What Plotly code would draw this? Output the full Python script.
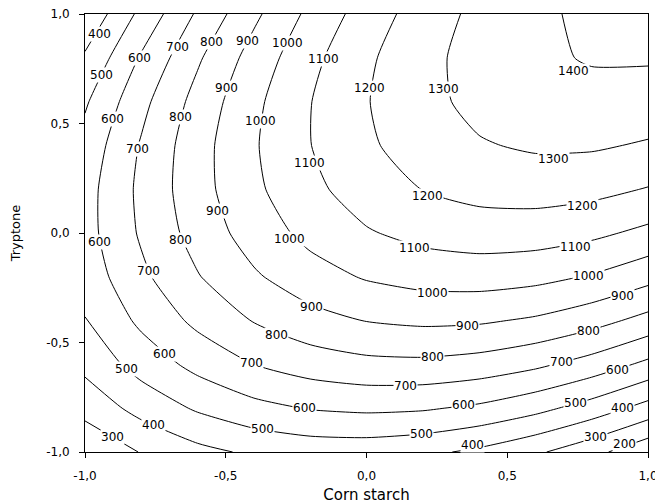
import plotly.graph_objects as go

# Coded factor levels
corn_starch = [-1.0, -0.8, -0.6, -0.4, -0.2, 0.0, 0.2, 0.4, 0.6, 0.8, 1.0]
tryptone = [-1.0, -0.8, -0.6, -0.4, -0.2, 0.0, 0.2, 0.4, 0.6, 0.8, 1.0]

# Response values (rows: tryptone, cols: corn starch)
response = [
    [217, 305, 372, 417, 440, 442, 422, 380, 317, 232, 125],
    [334, 434, 513, 570, 606, 619, 611, 582, 530, 457, 363],
    [427, 540, 630, 700, 747, 773, 777, 759, 720, 659, 577],
    [496, 621, 724, 805, 865, 903, 919, 913, 886, 837, 767],
    [542, 679, 794, 887, 959, 1009, 1037, 1044, 1029, 992, 933],
    [564, 713, 840, 945, 1029, 1091, 1131, 1150, 1147, 1122, 1076],
    [562, 723, 862, 980, 1075, 1150, 1202, 1233, 1242, 1229, 1195],
    [536, 709, 861, 990, 1098, 1184, 1249, 1292, 1313, 1312, 1290],
    [487, 672, 835, 977, 1097, 1195, 1272, 1327, 1360, 1372, 1361],
    [414, 611, 786, 940, 1072, 1183, 1271, 1338, 1384, 1407, 1409],
    [317, 526, 714, 879, 1024, 1146, 1247, 1326, 1383, 1419, 1433],
]

# Contour levels
level_start = 200
level_end = 1400
level_step = 100

# Contour label texts (levels) and where they sit on the lines
label_levels = [
    400, 500, 600, 700, 800, 900, 1000, 1100, 1200, 1300, 1400,
    900, 600, 800, 1000, 700, 1100, 1300, 900, 1200, 1200,
    600, 800, 1000, 1100, 1100, 700, 1000, 1000, 900, 900, 900,
    800, 800, 800, 700, 600, 700, 500, 700, 600, 600, 600,
    500, 400, 400, 500, 500, 300, 400, 300, 200,
]
label_x = [
    -0.947, -0.940, -0.805, -0.673, -0.549, -0.421, -0.282, -0.154, 0.012, 0.275, 0.734,
    -0.496, -0.901, -0.659, -0.375, -0.812, -0.201, 0.663, -0.528, 0.215, 0.766,
    -0.950, -0.662, -0.275, 0.172, 0.741, -0.776, 0.233, 0.787, -0.197, 0.908, 0.357,
    -0.318, 0.787, 0.236, 0.694, -0.719, -0.410, -0.854, 0.140, 0.890, -0.222, 0.343,
    0.744, 0.908, -0.758, -0.368, 0.197, -0.901, 0.375, 0.812, 0.918,
]
label_y = [
    0.909, 0.721, 0.799, 0.849, 0.872, 0.877, 0.868, 0.795, 0.662, 0.658, 0.740,
    0.662, 0.521, 0.530, 0.511, 0.384, 0.320, 0.338, 0.100, 0.169, 0.123,
    -0.041, -0.032, -0.027, -0.068, -0.064, -0.174, -0.274, -0.196, -0.338, -0.288, -0.425,
    -0.466, -0.447, -0.566, -0.589, -0.553, -0.594, -0.621, -0.699, -0.626, -0.799, -0.785,
    -0.776, -0.799, -0.877, -0.895, -0.918, -0.932, -0.966, -0.932, -0.962,
]

tick_vals = [-1.0, -0.5, 0.0, 0.5, 1.0]
tick_text = ["-1,0", "-0,5", "0,0", "0,5", "1,0"]

font_family = "DejaVu Sans, Arial, sans-serif"

fig = go.Figure(
    go.Contour(
        x=corn_starch,
        y=tryptone,
        z=response,
        contours=dict(
            coloring="lines",
            start=level_start,
            end=level_end,
            size=level_step,
            showlabels=False,
        ),
        colorscale=[[0, "black"], [1, "black"]],
        line=dict(width=1, color="black", smoothing=0.6),
        showscale=False,
        hoverinfo="skip",
    )
)

for lx, ly, lv in zip(label_x, label_y, label_levels):
    fig.add_annotation(
        x=lx, y=ly, xref="x", yref="y",
        text=str(lv),
        showarrow=False,
        font=dict(family=font_family, size=12, color="black"),
        bgcolor="white",
        borderpad=0,
        xanchor="center",
        yanchor="middle",
    )

axis_common = dict(
    range=[-1, 1],
    tickvals=tick_vals,
    ticktext=tick_text,
    ticks="outside",
    ticklen=5,
    tickwidth=1,
    tickcolor="black",
    showline=True,
    linecolor="black",
    linewidth=1,
    mirror=True,
    showgrid=False,
    zeroline=False,
    automargin=False,
    ticklabeloverflow="allow",
    tickfont=dict(family=font_family, size=12, color="black"),
)

fig.update_layout(
    width=655,
    height=504,
    margin=dict(l=85, r=7, t=14, b=52, autoexpand=False),
    paper_bgcolor="white",
    plot_bgcolor="white",
    showlegend=False,
    xaxis=dict(
        **axis_common,
        ticklabelstandoff=8,
        title=dict(text="Corn starch", font=dict(family=font_family, size=15, color="black"), standoff=12),
    ),
    yaxis=dict(
        **axis_common,
        ticklabelstandoff=7,
        title=dict(text="Tryptone", font=dict(family=font_family, size=13, color="black"), standoff=22),
    ),
)

fig.write_html("out.html")
